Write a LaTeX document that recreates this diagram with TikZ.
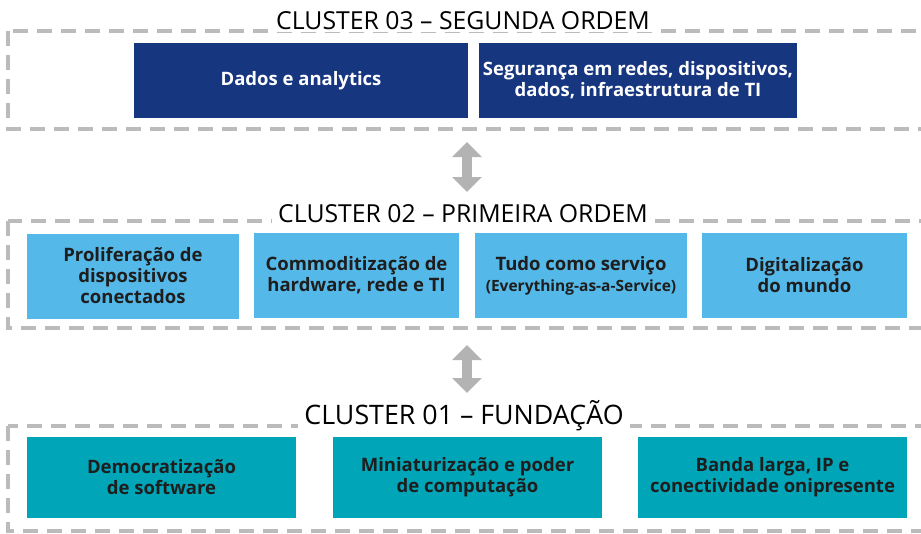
\documentclass[tikz,border=0pt]{standalone}
\usepackage{fontspec}
\setmainfont{Open Sans}
\usetikzlibrary{arrows.meta}
\definecolor{dblue}{HTML}{173680}
\definecolor{lblue}{HTML}{54B8E8}
\definecolor{teal2}{HTML}{00A5B8}
\definecolor{dgray}{HTML}{BBBBBB}
\definecolor{agray}{HTML}{B3B3B3}
\definecolor{txt}{HTML}{1E1E1E}
\tikzset{
  frame/.style={draw=dgray, line width=4pt, dash pattern=on 15pt off 9pt},
  boxbase/.style={rectangle, inner sep=0pt, align=center, font=\fontsize{18.5}{21}\selectfont\bfseries},
  dbox/.style={boxbase, fill=dblue, text=white},
  lbox/.style={boxbase, fill=lblue, text=txt},
  tbox/.style={boxbase, fill=teal2, text=txt},
  ctitle/.style={fill=white, inner xsep=6pt, inner ysep=2pt, font=\fontsize{24.8}{26}\selectfont, text=black},
  darrow/.style={draw=agray, line width=10pt, {Triangle[length=15pt,width=29pt]}-{Triangle[length=15pt,width=29pt]}, shorten <=0pt, shorten >=0pt},
}
\begin{document}
\begin{tikzpicture}[x=1pt,y=-1pt]
\useasboundingbox (0,0) rectangle (921,533);
\clip (0,0) rectangle (921,533);
% frames
\draw[frame] (8,31) rectangle (940,129);
\draw[frame] (8,221) rectangle (940,328);
\draw[frame] (8,426) rectangle (940,531);
% titles
\node[ctitle] (t3) at (463,21) {CLUSTER 03 – SEGUNDA ORDEM};
\node[ctitle] (t2) at (463,214) {CLUSTER 02 – PRIMEIRA ORDEM};
\node[ctitle, font=\fontsize{26.8}{28}\selectfont] (t1) at (464,416) {CLUSTER 01 – FUNDAÇÃO};
% cluster 03
\node[dbox, minimum width=334pt, minimum height=75pt] (b31) at (301,80.5) {Dados e analytics};
\node[dbox, minimum width=318pt, minimum height=75pt] (b32) at (638,80.5) {Segurança em redes, dispositivos,\\dados, infraestrutura de TI};
% cluster 02
\node[lbox, minimum width=212pt, minimum height=85pt] (b21) at (133,276) {Proliferação de\\dispositivos\\conectados};
\node[lbox, minimum width=205pt, minimum height=85pt] (b22) at (356.5,275.5) {Commoditização de\\hardware, rede e TI};
\node[lbox, minimum width=212pt, minimum height=85pt] (b23) at (581,275.5) {Tudo como serviço\\{\fontsize{15.5}{20}\selectfont(Everything-as-a-Service)}};
\node[lbox, minimum width=205pt, minimum height=85pt] (b24) at (804.5,275.5) {Digitalização\\do mundo};
% cluster 01
\node[tbox, minimum width=269pt, minimum height=81pt] (b11) at (161.5,477.5) {Democratização\\de software};
\node[tbox, minimum width=269pt, minimum height=81pt] (b12) at (467.5,477.5) {Miniaturização e poder\\de computação};
\node[tbox, minimum width=269pt, minimum height=81pt] (b13) at (772.5,477.5) {Banda larga, IP e\\conectividade onipresente};
% arrows
\coordinate (a1s) at (467,142);
\coordinate (a1e) at (467,192);
\coordinate (a2s) at (467,345);
\coordinate (a2e) at (467,393);
\draw[darrow] (a1s) -- (a1e);
\draw[darrow] (a2s) -- (a2e);
\end{tikzpicture}
\end{document}
